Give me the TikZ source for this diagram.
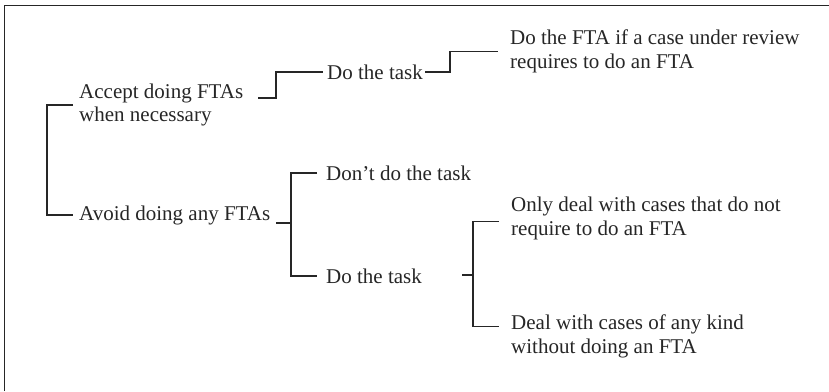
\documentclass[tikz,border=0pt]{standalone}
\usepackage{fontspec}
\setmainfont{Liberation Serif}
\definecolor{ink}{HTML}{262626}
\begin{document}
\begin{tikzpicture}[x=1pt,y=-1pt,
  txt/.style={inner sep=0pt, anchor=west, align=left, text=ink,
    font=\fontsize{21}{23.5}\selectfont},
  ln/.style={draw=ink, line width=1.2pt}]
\useasboundingbox (0,0) rectangle (829,391);
\draw[ln] (4.5,391) -- (4.5,5.5) -- (829,5.5);
% nodes
\node[txt] (accept) at (79,105) {Accept doing FTAs\\when necessary};
\node[txt] (avoid) at (79,215) {Avoid doing any FTAs};
\node[txt] (do1) at (327,72) {Do the task};
\node[txt] (fta) at (510,51.5) {Do the FTA if a case under review\\requires to do an FTA};
\node[txt] (dont) at (326,173) {Don’t do the task};
\node[txt] (do2) at (326,276) {Do the task};
\node[txt] (only) at (511,218.5) {Only deal with cases that do not\\require to do an FTA};
\node[txt] (deal) at (511,336.5) {Deal with cases of any kind\\without doing an FTA};
% junction coordinates
\coordinate (a1) at (258,98);
\coordinate (v1) at (291,223);
\coordinate (d2o) at (462,275);
\coordinate (dl) at ([xshift=-12pt,yshift=10pt]deal.west);
% connectors
\draw[ln] ([xshift=-6pt]accept.west) -- ++(-26,0) |- ([xshift=-6pt]avoid.west);
\draw[ln] (a1) -- (276,98) |- ([xshift=-4pt]do1.west);
\draw[ln] ([xshift=2pt]do1.east) -- (450,72) |- ([xshift=-12pt]fta.west);
\draw[ln] ([xshift=6pt,yshift=-8pt]avoid.east) -- (v1);
\draw[ln] ([xshift=-9pt]dont.west) -| (v1) |- ([xshift=-9pt]do2.west);
\draw[ln] (d2o) -- (473,275);
\draw[ln] ([xshift=-12pt,yshift=-3pt]only.west) -| (473,275) |- (dl);
\end{tikzpicture}
\end{document}
